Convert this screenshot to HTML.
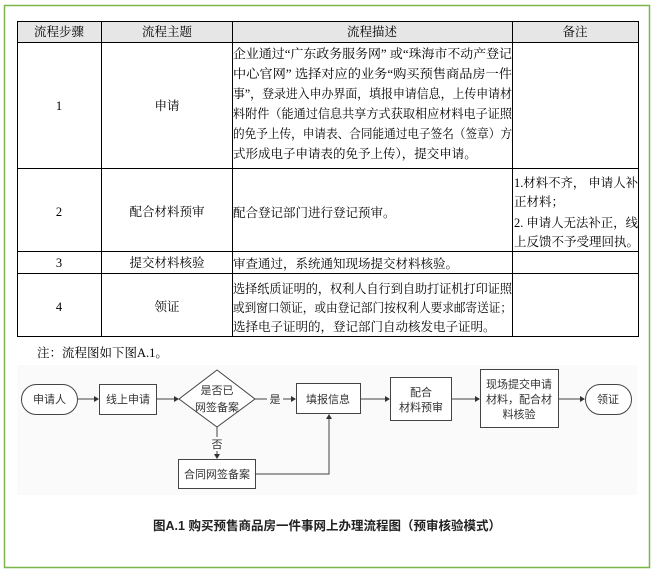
<!DOCTYPE html>
<html><head><meta charset="utf-8"><style>
html,body{margin:0;padding:0;background:#fff;width:654px;height:572px;overflow:hidden}
svg{display:block}
.t{font-family:"Liberation Serif","Noto Serif CJK SC","Noto Sans CJK SC",serif;font-size:12.5px;fill:#000}
.f{font-family:"Liberation Sans","Noto Sans CJK SC",sans-serif;font-size:11px;fill:#333}
</style></head><body>
<svg width="654" height="572" viewBox="0 0 654 572" xmlns="http://www.w3.org/2000/svg">
<rect x="4.5" y="5.5" width="645" height="562" fill="#fff" stroke="#7ab648" stroke-width="1.5"/>
<rect x="17" y="21" width="622" height="21" fill="#e6e6e6"/>
<g stroke="#000" stroke-width="1" fill="none">
<rect x="17.5" y="21.5" width="621" height="315"/>
<line x1="17" y1="42.5" x2="639" y2="42.5"/>
<line x1="17" y1="168.5" x2="639" y2="168.5"/>
<line x1="17" y1="251.5" x2="639" y2="251.5"/>
<line x1="17" y1="273.5" x2="639" y2="273.5"/>
<line x1="101.5" y1="21" x2="101.5" y2="337"/>
<line x1="232.5" y1="21" x2="232.5" y2="337"/>
<line x1="512.5" y1="21" x2="512.5" y2="337"/>
</g>
<g class="t" text-anchor="middle">
<text x="59" y="36">流程步骤</text>
<text x="167" y="36">流程主题</text>
<text x="372" y="36">流程描述</text>
<text x="575" y="36">备注</text>
<text x="59" y="110">1</text><text x="167" y="110">申请</text>
<text x="59" y="216">2</text><text x="167" y="216">配合材料预审</text>
<text x="59" y="267">3</text><text x="167" y="267">提交材料核验</text>
<text x="59" y="311">4</text><text x="167" y="311">领证</text>
</g>
<g class="t">
<text x="233" y="58" textLength="279" lengthAdjust="spacingAndGlyphs">企业通过“广东政务服务网” 或“珠海市不动产登记</text>
<text x="233" y="78" textLength="279" lengthAdjust="spacingAndGlyphs">中心官网” 选择对应的业务“购买预售商品房一件</text>
<text x="233" y="98" textLength="279" lengthAdjust="spacingAndGlyphs">事”，登录进入申办界面，填报申请信息，上传申请材</text>
<text x="233" y="118" textLength="279" lengthAdjust="spacingAndGlyphs">料附件（能通过信息共享方式获取相应材料电子证照</text>
<text x="233" y="138" textLength="279" lengthAdjust="spacingAndGlyphs">的免予上传，申请表、合同能通过电子签名（签章）方</text>
<text x="233" y="158">式形成电子申请表的免予上传），提交申请。</text>
<text x="233" y="217">配合登记部门进行登记预审。</text>
<text x="233" y="268">审查通过，系统通知现场提交材料核验。</text>
<text x="233" y="293" textLength="279" lengthAdjust="spacingAndGlyphs">选择纸质证明的，权利人自行到自助打证机打印证照</text>
<text x="233" y="312" textLength="279" lengthAdjust="spacingAndGlyphs">或到窗口领证，或由登记部门按权利人要求邮寄送证；</text>
<text x="233" y="331">选择电子证明的，登记部门自动核发电子证明。</text>
<text x="514" y="187" textLength="124" lengthAdjust="spacingAndGlyphs">1.材料不齐， 申请人补</text>
<text x="514" y="206">正材料；</text>
<text x="514" y="227" textLength="124" lengthAdjust="spacingAndGlyphs">2. 申请人无法补正，线</text>
<text x="514" y="246">上反馈不予受理回执。</text>
<text x="37" y="357">注：流程图如下图A.1。</text>
</g>
<rect x="17" y="365" width="620" height="130" fill="#fafafa"/>
<g stroke="#444" stroke-width="1" fill="#fff">
<rect x="21.5" y="384.5" width="56" height="30" rx="15"/>
<rect x="99.5" y="384.5" width="57" height="30"/>
<polygon points="217,370 255,399 217,427 179,399"/>
<rect x="296.5" y="383.5" width="64" height="30"/>
<rect x="390.5" y="377.5" width="61" height="43"/>
<rect x="480.5" y="369.5" width="78" height="58"/>
<rect x="585.5" y="384.5" width="46" height="30" rx="15"/>
<rect x="178.5" y="459.5" width="77" height="29"/>
</g>
<g stroke="#444" stroke-width="1" fill="none">
<line x1="78" y1="399" x2="95" y2="399"/>
<line x1="157" y1="399" x2="175" y2="399"/>
<line x1="255" y1="399" x2="267" y2="399"/>
<line x1="283" y1="399" x2="292" y2="399"/>
<line x1="361" y1="399" x2="386" y2="399"/>
<line x1="452" y1="399" x2="476" y2="399"/>
<line x1="559" y1="399" x2="581" y2="399"/>
<line x1="217" y1="427" x2="217" y2="437"/>
<line x1="217" y1="451" x2="217" y2="455"/>
<polyline points="256,474 329,474 329,418"/>
</g>
<g fill="#333">
<polygon points="99,399 94,396 94,402"/>
<polygon points="179,399 174,396 174,402"/>
<polygon points="296,399 291,396 291,402"/>
<polygon points="390,399 385,396 385,402"/>
<polygon points="480,399 475,396 475,402"/>
<polygon points="585,399 580,396 580,402"/>
<polygon points="217,459 214,454 220,454"/>
<polygon points="329,414 326,419 332,419"/>
</g>
<g class="f" text-anchor="middle">
<text x="49.5" y="403">申请人</text>
<text x="128" y="403">线上申请</text>
<text x="217" y="394">是否已</text>
<text x="217" y="411">网签备案</text>
<text x="275" y="403">是</text>
<text x="217" y="448">否</text>
<text x="328" y="403">填报信息</text>
<text x="421" y="396">配合</text>
<text x="421" y="411">材料预审</text>
<text x="519" y="388">现场提交申请</text>
<text x="519" y="403">材料，配合材</text>
<text x="519" y="418">料核验</text>
<text x="608" y="403">领证</text>
<text x="217" y="478">合同网签备案</text>
</g>
<text x="327" y="530" text-anchor="middle" style="font-family:'Liberation Sans','Noto Sans CJK SC',sans-serif;font-size:12.5px;font-weight:bold;fill:#222">图A.1 购买预售商品房一件事网上办理流程图（预审核验模式）</text>
</svg>
</body></html>
